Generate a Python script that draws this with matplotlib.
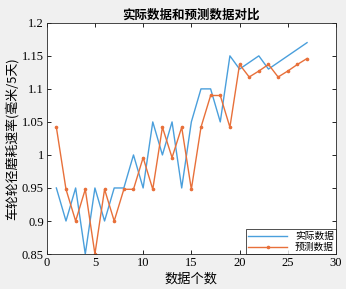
import numpy as np
import matplotlib
matplotlib.use("Agg")
import matplotlib.pyplot as plt

plt.rcParams['font.family'] = 'serif'
plt.rcParams['font.serif'] = ['Liberation Serif', 'DejaVu Serif']

idx = np.arange(1, 28)
actual = [0.95, 0.90, 0.95, 0.85, 0.95, 0.90, 0.95, 0.95, 1.00, 0.95,
          1.05, 1.00, 1.05, 0.95, 1.05, 1.10, 1.10, 1.05, 1.15, 1.13,
          1.14, 1.15, 1.13, 1.14, 1.15, 1.16, 1.17]
predict = [1.042, 0.948, 0.90, 0.948, 0.85, 0.948, 0.90, 0.948, 0.948, 0.996,
           0.948, 1.042, 0.996, 1.042, 0.948, 1.042, 1.09, 1.09, 1.042, 1.137,
           1.118, 1.127, 1.137, 1.118, 1.127, 1.137, 1.146]

cjk = ["Noto Sans CJK SC"]

fig = plt.figure(figsize=(3.46, 2.89), dpi=100, facecolor="#f0f0f0")
ax = fig.add_axes([0.135, 0.121, 0.836, 0.800])
ax.plot(idx, actual, color="#4a9fdc", lw=1.0, label="实际数据")
ax.plot(idx, predict, color="#e8703a", lw=1.0, marker="o", ms=1.6, label="预测数据")

ax.set_xlim(0, 30)
ax.set_ylim(0.85, 1.2)
ax.set_xticks([0, 5, 10, 15, 20, 25, 30])
ax.set_yticks([0.85, 0.9, 0.95, 1.0, 1.05, 1.1, 1.15, 1.2])
ax.set_yticklabels(["0.85", "0.9", "0.95", "1", "1.05", "1.1", "1.15", "1.2"])
ax.tick_params(direction="in", top=True, right=True, labelsize=9, length=3, width=0.6, pad=2)
for lab in ax.get_xticklabels() + ax.get_yticklabels():
    lab.set_family("Liberation Serif")
for s in ax.spines.values():
    s.set_linewidth(0.6)
    s.set_color("#262626")

ax.set_title("实际数据和预测数据对比", fontsize=9, pad=3, family=cjk, fontweight="bold")
ax.set_xlabel("数据个数", fontsize=9.5, labelpad=3, family=cjk)
ax.set_ylabel("车轮轮径磨耗速率(毫米/5天)", fontsize=9.3, labelpad=2, family=cjk)

leg = ax.legend(loc="lower right", frameon=True, fancybox=False,
                borderpad=0.2, handlelength=4, labelspacing=0.1, borderaxespad=0,
                prop={"family": cjk, "size": 7})
leg.get_frame().set_edgecolor("black")
leg.get_frame().set_linewidth(0.6)

fig.savefig("out.png", dpi=100, facecolor=fig.get_facecolor())
